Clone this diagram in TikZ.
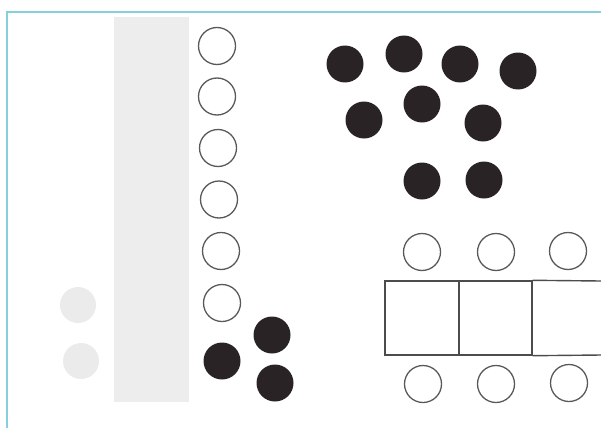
\documentclass[tikz,border=0pt]{standalone}
\begin{document}
\begin{tikzpicture}[x=1pt,y=-1pt,
  opendot/.style={circle,draw=black!65,line width=1.3pt,minimum size=37pt,inner sep=0pt},
  fulldot/.style={circle,fill=dotblack,draw=none,minimum size=37pt,inner sep=0pt},
  ghostdot/.style={circle,fill=black!8,draw=none,minimum size=36pt,inner sep=0pt},
  cell/.style={rectangle,draw=black!70,line width=1.4pt,inner sep=0pt},
  framecol/.style={draw=framecyan,line width=2pt}]
\definecolor{dotblack}{HTML}{2A2325}
\definecolor{framecyan}{HTML}{86CFDD}
\useasboundingbox (0,0) rectangle (601,428);
% frame
\coordinate (ftl) at (7,12);
\coordinate (ftr) at (601,12);
\coordinate (fbl) at (7,428);
\draw[framecol] (fbl) -- (ftl) -- (ftr);
% gray column
\node[rectangle,fill=black!7,draw=none,minimum width=75pt,minimum height=385pt,inner sep=0pt] (col) at (151,209.5) {};
% open circles next to column
\node[opendot] (o1) at (217,46) {};
\node[opendot] (o2) at (217,96.5) {};
\node[opendot] (o3) at (218,148) {};
\node[opendot] (o4) at (219,199.5) {};
\node[opendot] (o5) at (221,251) {};
\node[opendot] (o6) at (222,303) {};
% black dots lower left
\node[fulldot] (b1) at (222,361) {};
\node[fulldot] (b2) at (272,335) {};
\node[fulldot] (b3) at (275,383) {};
% ghost dots
\node[ghostdot] (g1) at (78,305) {};
\node[ghostdot] (g2) at (81,361) {};
% black dots top right
\node[fulldot] (t1) at (345,64) {};
\node[fulldot] (t2) at (404,54) {};
\node[fulldot] (t3) at (460,64) {};
\node[fulldot] (t4) at (518,71) {};
\node[fulldot] (t5) at (364,120) {};
\node[fulldot] (t6) at (422,104) {};
\node[fulldot] (t7) at (483,123) {};
\node[fulldot] (t8) at (422,181) {};
\node[fulldot] (t9) at (484,180) {};
% boxes
\node[cell,minimum width=74pt,minimum height=74pt] (c1) at (422,318) {};
\node[cell,minimum width=73pt,minimum height=74pt] (c2) at (495.5,318) {};
\draw[draw=black!70,line width=1.4pt] (c2.north east) -- (601,281) (c2.south east) -- (601,355);
% circles above and below boxes
\node[opendot] (u1) at (422,252) {};
\node[opendot] (u2) at (496,252) {};
\node[opendot] (u3) at (568,251) {};
\node[opendot] (d1) at (423,384) {};
\node[opendot] (d2) at (496,384) {};
\node[opendot] (d3) at (569,383) {};
\end{tikzpicture}
\end{document}
